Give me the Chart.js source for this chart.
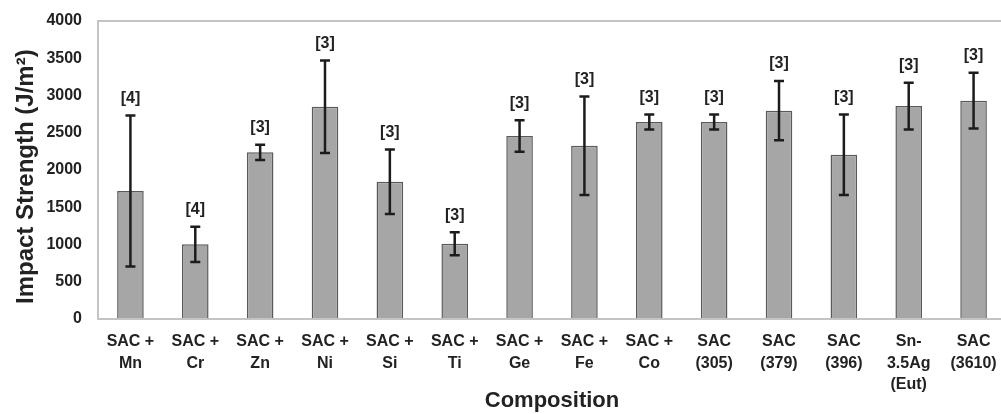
<!DOCTYPE html>
<html>
<head>
<meta charset="utf-8">
<script src="https://cdn.jsdelivr.net/npm/chart.js@4.4.1/dist/chart.umd.min.js"></script>
<style>
  html, body { margin: 0; padding: 0; background: #fff; overflow: hidden; }
  #wrap { width: 1006px; height: 414px; }
</style>
</head>
<body>
<div id="wrap"><canvas id="impactChart" width="1006" height="414"></canvas></div>
<script>
// values
const categories = [
  ['SAC +', 'Mn'], ['SAC +', 'Cr'], ['SAC +', 'Zn'], ['SAC +', 'Ni'], ['SAC +', 'Si'],
  ['SAC +', 'Ti'], ['SAC +', 'Ge'], ['SAC +', 'Fe'], ['SAC +', 'Co'],
  ['SAC', '(305)'], ['SAC', '(379)'], ['SAC', '(396)'], ['Sn-', '3.5Ag', '(Eut)'], ['SAC', '(3610)']
];
const impactMean = [1718, 1002, 2237, 2849, 1843, 1011, 2456, 2326, 2644, 2644, 2796, 2205, 2858, 2930];
const impactSd = [1013, 237, 102, 620, 433, 154, 212, 660, 100, 100, 398, 540, 313, 374];
const sampleRefs = ['[4]', '[4]', '[3]', '[3]', '[3]', '[3]', '[3]', '[3]', '[3]', '[3]', '[3]', '[3]', '[3]', '[3]'];
const yTicks = [0, 500, 1000, 1500, 2000, 2500, 3000, 3500, 4000];

const fontFamily = '"Liberation Sans", Arial, sans-serif';
const textColor = '#222';

// error bars + sample count labels
const errorBarPlugin = {
  id: 'errorBars',
  afterDatasetsDraw(chart) {
    const ctx = chart.ctx;
    const xScale = chart.scales.x;
    const yScale = chart.scales.y;
    ctx.save();
    ctx.strokeStyle = '#1c1c1c';
    ctx.lineWidth = 2.5;
    impactMean.forEach((mean, i) => {
      const x = xScale.getPixelForValue(i);
      const yHi = yScale.getPixelForValue(mean + impactSd[i]);
      const yLo = yScale.getPixelForValue(mean - impactSd[i]);
      ctx.beginPath();
      ctx.moveTo(x, yHi);
      ctx.lineTo(x, yLo);
      ctx.moveTo(x - 5, yHi);
      ctx.lineTo(x + 5, yHi);
      ctx.moveTo(x - 5, yLo);
      ctx.lineTo(x + 5, yLo);
      ctx.stroke();

      ctx.fillStyle = textColor;
      ctx.font = 'bold 16px ' + fontFamily;
      ctx.textAlign = 'center';
      ctx.textBaseline = 'middle';
      ctx.fillText(sampleRefs[i], x, yHi - 17);
    });
    ctx.restore();
  }
};

const ctx = document.getElementById('impactChart').getContext('2d');

new Chart(ctx, {
  type: 'bar',
  data: {
    labels: categories,
    datasets: [{
      data: impactMean,
      backgroundColor: '#a6a6a6',
      borderColor: '#5a5a5a',
      borderWidth: 1.5,
      barPercentage: 0.41,
      categoryPercentage: 1
    }]
  },
  options: {
    responsive: false,
    animation: false,
    devicePixelRatio: 1,
    layout: { padding: { top: 21, right: 0, bottom: 0, left: 0 } },
    plugins: {
      legend: { display: false },
      tooltip: { enabled: false }
    },
    scales: {
      x: {
        grid: { display: false },
        border: { display: true, color: '#c4c4c4', width: 2 },
        ticks: {
          color: textColor,
          font: { family: fontFamily, size: 16, weight: 'bold', lineHeight: 1.35 },
          padding: 4,
          maxRotation: 0,
          autoSkip: false
        },
        title: {
          display: true,
          text: 'Composition',
          color: textColor,
          font: { family: fontFamily, size: 22, weight: 'bold' },
          padding: { top: 0, bottom: 0 }
        },
        afterFit(scale) { scale.height = 95; }
      },
      y: {
        min: 0,
        max: 4000,
        afterBuildTicks(scale) {
          scale.ticks = yTicks.map(v => ({ value: v }));
        },
        grid: {
          drawTicks: false,
          lineWidth: 2,
          color: c => (c.tick && c.tick.value === 4000 ? '#c4c4c4' : 'rgba(0,0,0,0)')
        },
        border: { display: true, color: '#c4c4c4', width: 2 },
        ticks: {
          color: textColor,
          font: { family: fontFamily, size: 16, weight: 'bold' },
          padding: 16,
          callback: v => String(v)
        },
        title: {
          display: true,
          text: 'Impact Strength (J/m²)\u00a0\u00a0',
          color: textColor,
          font: { family: fontFamily, size: 24, weight: 'bold' },
          padding: { top: 12, bottom: 0 }
        },
        afterFit(scale) {
          scale.width = 98;
          // let layout.padding decide the top edge
          scale.paddingTop = 0;
          scale.paddingBottom = 0;
        }
      }
    }
  },
  plugins: [errorBarPlugin]
});
</script>
</body>
</html>
